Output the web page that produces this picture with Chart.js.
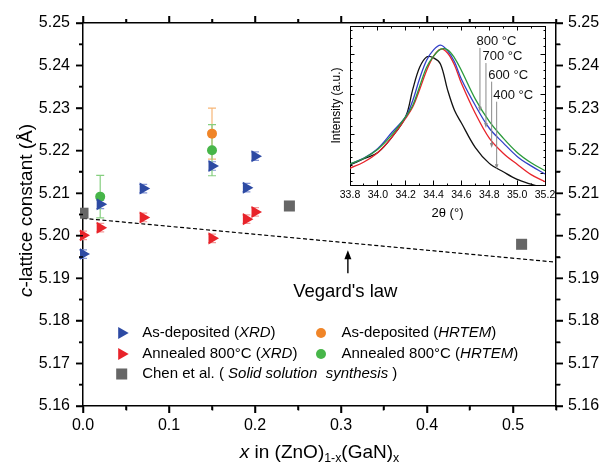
<!DOCTYPE html>
<html>
<head>
<meta charset="utf-8">
<title>c-lattice constant of (ZnO)1-x(GaN)x</title>
<script src="https://cdn.jsdelivr.net/npm/chart.js@4.4.1/dist/chart.umd.min.js"></script>
<style>
  html, body { margin: 0; padding: 0; background: #fff; }
  #wrap { position: relative; width: 605px; height: 466px; overflow: hidden; }
  #main, #ticks { position: absolute; left: 0; top: 0; }
  #ticks { pointer-events: none; }
  #inset { position: absolute; left: 310px; top: 20px; }
</style>
</head>
<body>
<div id="wrap">
  <canvas id="main" width="605" height="466"></canvas>
  <canvas id="ticks" width="605" height="466"></canvas>
  <canvas id="inset" width="255" height="205"></canvas>
</div>
<script>
// ---- c-lattice constant (Å) vs. GaN fraction x ----
const xrdX = [0, 0.02, 0.07, 0.15, 0.19, 0.20];
const asDepXrdC = [5.1957, 5.2074, 5.2111, 5.2164, 5.2113, 5.2187];
const annealXrdC = [5.2001, 5.2019, 5.2043, 5.1994, 5.2039, 5.2056];
const xrdErr = [0.001, 0.001, 0.001, 0.001, 0.001, 0.001];

const asDepTemX = [0.15];
const asDepTemC = [5.2240];
const asDepTemErr = [0.006];

const annealTemX = [0.02, 0.15];
const annealTemC = [5.2092, 5.2201];
const annealTemErr = [0.005, 0.006];

const chenX = [0, 0.24, 0.51];
const chenC = [5.2053, 5.2070, 5.1980];

const vegardX = [0, 0.55];
const vegardC = [5.2041, 5.1938];

const seriesLabels = [
  'As-deposited (XRD)',
  'Annealed 800°C (XRD)',
  'As-deposited (HRTEM)',
  'Annealed 800°C (HRTEM)',
  'Chen et al. ( Solid solution  synthesis )'
];

const xTicks = [0, 0.1, 0.2, 0.3, 0.4, 0.5];
const cTicks = [5.16, 5.17, 5.18, 5.19, 5.20, 5.21, 5.22, 5.23, 5.24, 5.25];

// ---- inset: (002) peak, intensity in a.u. ----
const twoTheta = [33.8, 33.9, 34.0, 34.1, 34.2, 34.25, 34.3, 34.35, 34.4, 34.45, 34.5, 34.55, 34.6, 34.7, 34.8, 34.9, 35.0, 35.1, 35.2];
const int400 = [12.6, 16.5, 20.5, 30, 43, 60, 74, 80.5, 80, 76, 60, 47, 39, 23.5, 13.6, 8.3, 3.5, 0.5, -2];
const int600 = [10.5, 14.5, 20.5, 30, 42, 49, 60, 72, 81, 85.5, 83, 75.5, 64, 45, 29.5, 20, 13, 6.5, 2.1];
const int700 = [13.2, 17, 23, 33, 43, 53, 67, 78.5, 85, 88, 84.5, 77.5, 66.5, 50, 35.7, 26.5, 18, 12, 6.9];
const int800 = [13.2, 16.8, 22.5, 31.5, 43, 50, 62, 74, 81, 85.3, 85, 80, 72, 54, 40, 29.5, 20.5, 14, 9];
const twoThetaTicks = [33.8, 34.0, 34.2, 34.4, 34.6, 34.8, 35.0, 35.2];
const intensityTicks = [7, 32, 57, 82];

const tempLabels = ['800 °C', '700 °C', '600 °C', '400 °C'];

const FONT = "'Liberation Sans', Arial, Helvetica, sans-serif";
Chart.defaults.font.family = FONT;
Chart.defaults.color = '#000';

const pts = (xs, ys) => xs.map((x, i) => ({ x: x, y: ys[i] }));

// evenly spaced tick list, flagged minor where no major sits
function stepTicks(from, to, step, majors) {
  const n = Math.round((to - from) / step);
  const list = [];
  for (let i = 0; i <= n; i++) {
    const v = +(from + i * step).toFixed(6);
    list.push({ value: v, minor: !majors.some(m => Math.abs(m - v) < step / 10) });
  }
  return list;
}

// minor ticks are drawn as the part of the tick next to the axis line
// (top/left tick lines start at their outer end, bottom/right at the axis)
function tickDash(side, full, short) {
  const pattern = (side === 'top' || side === 'left') ? [0, full - short, short, 60] : [short, 60];
  return c => (c.tick && c.tick.minor) ? pattern : [];
}

function tickGrid(side, full, short, width) {
  return {
    display: true, drawOnChartArea: false, drawTicks: true,
    tickLength: full, tickWidth: width, tickColor: '#000',
    tickBorderDash: tickDash(side, Math.abs(full), short)
  };
}

const labelOf = digits => (v, i, t) => (t[i] && t[i].minor) ? '' : v.toFixed(digits);

// text made of plain / italic / subscript runs
function drawRuns(ctx, runs, x, y, size, align) {
  const fontOf = r => (r.i ? 'italic ' : '') + (r.sub ? size * 0.65 : size) + 'px ' + FONT;
  let total = 0;
  runs.forEach(r => { ctx.font = fontOf(r); total += ctx.measureText(r.t).width; });
  let cx = align === 'center' ? x - total / 2 : x;
  ctx.textBaseline = 'middle';
  ctx.textAlign = 'left';
  runs.forEach(r => {
    ctx.font = fontOf(r);
    ctx.fillText(r.t, cx, r.sub ? y + size * 0.32 : y);
    cx += ctx.measureText(r.t).width;
  });
}

// whatever sits in parentheses is set in italics
function labelRuns(label) {
  const runs = [];
  let italic = false;
  label.split(/([()])/).forEach(part => {
    if (part === '(') { runs.push({ t: part }); italic = true; }
    else if (part === ')') { italic = false; runs.push({ t: part }); }
    else if (part) runs.push({ t: part, i: italic });
  });
  return runs;
}

function drawMarker(ctx, style, color, x, y, r) {
  ctx.fillStyle = color;
  ctx.beginPath();
  if (style === 'triangle') {
    ctx.moveTo(x + r, y);
    ctx.lineTo(x - r / 2, y - r * Math.sqrt(3) / 2);
    ctx.lineTo(x - r / 2, y + r * Math.sqrt(3) / 2);
    ctx.closePath();
  } else if (style === 'rect') {
    const s = r * Math.SQRT1_2;
    ctx.rect(x - s, y - s, 2 * s, 2 * s);
  } else {
    ctx.arc(x, y, r, 0, Math.PI * 2);
  }
  ctx.fill();
}

// tick marks of the main frame, drawn on the overlay canvas from the chart's scales
function drawFrameTicks(ctx, chart, lineWidth, spec) {
  const scale = chart.scales[spec.id];
  const area = chart.chartArea;
  const side = spec.side;
  const horiz = side === 'top' || side === 'bottom';
  const base = area[side];
  const dir = (side === 'left' || side === 'top') ? -1 : 1;
  ctx.save();
  ctx.strokeStyle = '#000';
  ctx.lineWidth = lineWidth;
  ctx.beginPath();
  spec.ticks.forEach(t => {
    const len = t.minor ? spec.minor : spec.major;
    const p = scale.getPixelForValue(t.value);
    if (horiz) { ctx.moveTo(p, base); ctx.lineTo(p, base + dir * len); }
    else { ctx.moveTo(base, p); ctx.lineTo(base + dir * len, p); }
  });
  ctx.stroke();
  ctx.restore();
}

// vertical error bars under the markers
const errorBars = {
  id: 'errorBars',
  beforeDatasetsDraw(chart) {
    const ctx = chart.ctx;
    chart.data.datasets.forEach((ds, i) => {
      if (!ds.errors) return;
      const meta = chart.getDatasetMeta(i);
      const xs = chart.scales[meta.xAxisID], ys = chart.scales[meta.yAxisID];
      ctx.save();
      ctx.strokeStyle = ds.errorColor;
      ctx.lineWidth = 1.2;
      ctx.beginPath();
      ds.data.forEach((pt, j) => {
        const px = xs.getPixelForValue(pt.x);
        const top = ys.getPixelForValue(pt.y + ds.errors[j]);
        const bot = ys.getPixelForValue(pt.y - ds.errors[j]);
        ctx.moveTo(px, top); ctx.lineTo(px, bot);
        ctx.moveTo(px - 4, top); ctx.lineTo(px + 4, top);
        ctx.moveTo(px - 4, bot); ctx.lineTo(px + 4, bot);
      });
      ctx.stroke();
      ctx.restore();
    });
  }
};

const fixSize = (prop, v) => scale => { scale[prop] = v; };
const setTicks = list => scale => { scale.ticks = list.map(t => ({ value: t.value, minor: t.minor })); };
const frame = { color: '#000', width: 1.5 };

const mainXTicks = stepTicks(0, 0.55, 0.05, xTicks);
const mainCTicks = stepTicks(5.16, 5.25, 0.005, cTicks);

const frameTicks = [
  { id: 'x', side: 'bottom', ticks: mainXTicks, major: 7, minor: 4 },
  { id: 'x2', side: 'top', ticks: mainXTicks, major: 7, minor: 4 },
  { id: 'y', side: 'left', ticks: mainCTicks, major: 7, minor: 4 },
  { id: 'y2', side: 'right', ticks: mainCTicks, major: 7, minor: 4 }
];

// ticks, axis titles, legend and the Vegard's law note
const mainDecor = {
  id: 'mainDecor',
  afterDraw(chart) {
    const { ctx, chartArea, scales } = chart;

    const overlay = document.getElementById('ticks').getContext('2d');
    overlay.clearRect(0, 0, 605, 466);
    frameTicks.forEach(spec => drawFrameTicks(overlay, chart, 1.5, spec));

    ctx.save();
    ctx.fillStyle = '#000';
    ctx.save();
    ctx.translate(27, (chartArea.top + chartArea.bottom) / 2 - 4);
    ctx.rotate(-Math.PI / 2);
    drawRuns(ctx, [{ t: 'c', i: true }, { t: '-lattice constant (Å)' }], 0, 0, 19, 'center');
    ctx.restore();

    ctx.fillStyle = '#000';
    drawRuns(ctx, [{ t: 'x', i: true }, { t: ' in (ZnO)' }, { t: '1-x', sub: true }, { t: '(GaN)' }, { t: 'x', sub: true }],
      (chartArea.left + chartArea.right) / 2, 453, 19, 'center');

    // legend
    const slots = [[121.7, 333], [121.7, 354], [321, 333], [321, 354], [121.7, 374]];
    chart.data.datasets.forEach(ds => {
      if (ds.legendIndex === undefined) return;
      const [mx, my] = slots[ds.legendIndex];
      drawMarker(ctx, ds.pointStyle, ds.backgroundColor, mx, my, ds.legendRadius);
      ctx.fillStyle = '#000';
      drawRuns(ctx, labelRuns(ds.label), mx + 20.5, my, 15, 'left');
    });

    // Vegard's law arrow + label
    const ax = scales.x.getPixelForValue(0.308);
    const tip = scales.y.getPixelForValue(5.1966);
    const tail = scales.y.getPixelForValue(5.1912);
    ctx.strokeStyle = '#000';
    ctx.lineWidth = 1.4;
    ctx.beginPath(); ctx.moveTo(ax, tail); ctx.lineTo(ax, tip + 6); ctx.stroke();
    ctx.fillStyle = '#000';
    ctx.beginPath(); ctx.moveTo(ax, tip); ctx.lineTo(ax - 3.5, tip + 9); ctx.lineTo(ax + 3.5, tip + 9); ctx.closePath(); ctx.fill();
    drawRuns(ctx, [{ t: "Vegard's law" }], scales.x.getPixelForValue(0.305), scales.y.getPixelForValue(5.1869), 18.5, 'center');
    ctx.restore();
  }
};

new Chart(document.getElementById('main'), {
  type: 'scatter',
  data: {
    datasets: [
      {
        label: seriesLabels[0], legendIndex: 0, legendRadius: 7,
        data: pts(xrdX, asDepXrdC), errors: xrdErr, errorColor: '#8293d4',
        pointStyle: 'triangle', rotation: 90, pointRadius: 7,
        backgroundColor: '#2d4aa3', borderColor: '#2d4aa3', borderWidth: 0,
        clip: { left: 3, top: 0, right: 0, bottom: 0 }
      },
      {
        label: seriesLabels[1], legendIndex: 1, legendRadius: 7,
        data: pts(xrdX, annealXrdC), errors: xrdErr, errorColor: '#f39a9a',
        pointStyle: 'triangle', rotation: 90, pointRadius: 7,
        backgroundColor: '#e8232a', borderColor: '#e8232a', borderWidth: 0,
        clip: { left: 3, top: 0, right: 0, bottom: 0 }
      },
      {
        label: seriesLabels[2], legendIndex: 2, legendRadius: 5,
        data: pts(asDepTemX, asDepTemC), errors: asDepTemErr, errorColor: '#f7b677',
        pointStyle: 'circle', pointRadius: 5,
        backgroundColor: '#f08528', borderColor: '#f08528', borderWidth: 0
      },
      {
        label: seriesLabels[3], legendIndex: 3, legendRadius: 5,
        data: pts(annealTemX, annealTemC), errors: annealTemErr, errorColor: '#86cf80',
        pointStyle: 'circle', pointRadius: 5,
        backgroundColor: '#47b649', borderColor: '#47b649', borderWidth: 0
      },
      {
        label: seriesLabels[4], legendIndex: 4, legendRadius: 7.8,
        data: pts(chenX, chenC),
        pointStyle: 'rect', pointRadius: 7.8,
        backgroundColor: '#666666', borderColor: '#666666', borderWidth: 0,
        clip: { left: 3, top: 0, right: 0, bottom: 0 }
      },
      {
        label: "Vegard's law",
        data: pts(vegardX, vegardC),
        showLine: true, pointRadius: 0,
        borderColor: '#000', borderWidth: 1.2, borderDash: [4, 2.5],
        clip: 0
      }
    ]
  },
  options: {
    responsive: false,
    animation: false,
    layout: { padding: 0 },
    plugins: {
      legend: { display: false },
      tooltip: { enabled: false }
    },
    scales: {
      x: {
        type: 'linear', position: 'bottom', min: 0, max: 0.55,
        afterBuildTicks: setTicks(mainXTicks), afterFit: fixSize('height', 60),
        ticks: { font: { size: 16 }, padding: 3, autoSkip: false, maxRotation: 0, callback: labelOf(1) },
        grid: tickGrid('bottom', 7, 4, 1.5), border: frame
      },
      x2: {
        type: 'linear', position: 'top', min: 0, max: 0.55,
        afterBuildTicks: setTicks(mainXTicks), afterFit: fixSize('height', 23),
        ticks: { display: false, autoSkip: false },
        grid: tickGrid('top', 7, 4, 1.5), border: frame
      },
      y: {
        type: 'linear', position: 'left', min: 5.16, max: 5.25,
        afterBuildTicks: setTicks(mainCTicks), afterFit: fixSize('width', 83),
        ticks: { font: { size: 16 }, padding: 6, autoSkip: false, callback: labelOf(2) },
        grid: tickGrid('left', 7, 4, 1.5), border: frame
      },
      y2: {
        type: 'linear', position: 'right', min: 5.16, max: 5.25,
        afterBuildTicks: setTicks(mainCTicks), afterFit: fixSize('width', 49),
        ticks: { font: { size: 16 }, padding: 5, autoSkip: false, callback: labelOf(2) },
        grid: tickGrid('right', 7, 4, 1.5), border: frame
      }
    }
  },
  plugins: [errorBars, mainDecor]
});

// ---- inset chart ----
const pointers = [
  { at: 34.733, from: 86.2, to: 46.1 },
  { at: 34.776, from: 76.7, to: 35.8 },
  { at: 34.817, from: 65.0, to: 23.3 },
  { at: 34.853, from: 52.4, to: 9.9 }
];

const insetDecor = {
  id: 'insetDecor',
  beforeDraw(chart) {
    const { ctx, chartArea } = chart;
    ctx.save();
    ctx.fillStyle = '#fff';
    ctx.fillRect(chartArea.left, chartArea.top, chartArea.right - chartArea.left, chartArea.bottom - chartArea.top);
    ctx.restore();
  },
  afterDraw(chart) {
    const { ctx, chartArea, scales } = chart;
    ctx.save();
    ctx.fillStyle = '#000';
    ctx.save();
    ctx.translate(27, (chartArea.top + chartArea.bottom) / 2);
    ctx.rotate(-Math.PI / 2);
    drawRuns(ctx, [{ t: 'Intensity (a.u.)' }], 0, 0, 12, 'center');
    ctx.restore();
    drawRuns(ctx, [{ t: '2θ (°)' }], (chartArea.left + chartArea.right) / 2, 193, 13, 'center');

    // temperature labels pointing at their curves
    ctx.strokeStyle = '#8a8a8a';
    ctx.lineWidth = 1;
    pointers.forEach((p, i) => {
      const px = scales.x.getPixelForValue(p.at);
      const top = scales.y.getPixelForValue(p.from);
      const tip = scales.y.getPixelForValue(p.to);
      ctx.beginPath(); ctx.moveTo(px, top); ctx.lineTo(px, tip - 3); ctx.stroke();
      ctx.fillStyle = '#8a8a8a';
      ctx.beginPath(); ctx.moveTo(px, tip); ctx.lineTo(px - 1.8, tip - 5); ctx.lineTo(px + 1.8, tip - 5); ctx.closePath(); ctx.fill();
      ctx.fillStyle = '#111';
      drawRuns(ctx, [{ t: tempLabels[i] }], px - 3.5, top - 6.5, 13, 'left');
    });
    ctx.restore();
  }
};

const peak = (ys, color) => ({
  data: pts(twoTheta, ys), showLine: true, pointRadius: 0,
  borderColor: color, borderWidth: 1.3, tension: 0.35, clip: 0
});

const thinFrame = { color: '#000', width: 1 };
const insetXTicks = stepTicks(33.8, 35.2, 0.1, twoThetaTicks);
const insetYTicks = stepTicks(2, 97, 5, intensityTicks);

// negative tick length turns the inset ticks inward
new Chart(document.getElementById('inset'), {
  type: 'scatter',
  data: {
    datasets: [
      peak(int800, '#2a9a3a'),
      peak(int700, '#3340c8'),
      peak(int600, '#e8232a'),
      peak(int400, '#111111')
    ]
  },
  options: {
    responsive: false,
    animation: false,
    layout: { padding: 0 },
    plugins: {
      legend: { display: false },
      tooltip: { enabled: false }
    },
    scales: {
      x: {
        type: 'linear', position: 'bottom', min: 33.8, max: 35.2,
        afterBuildTicks: setTicks(insetXTicks), afterFit: fixSize('height', 40),
        ticks: { font: { size: 10.5 }, padding: 8.5, autoSkip: false, maxRotation: 0, callback: labelOf(1) },
        grid: tickGrid('bottom', -4.5, 2.5, 1), border: thinFrame
      },
      x2: {
        type: 'linear', position: 'top', min: 33.8, max: 35.2,
        afterBuildTicks: setTicks(insetXTicks), afterFit: fixSize('height', 6),
        ticks: { display: false, autoSkip: false },
        grid: tickGrid('top', -4.5, 2.5, 1), border: thinFrame
      },
      y: {
        type: 'linear', position: 'left', min: 0, max: 100,
        afterBuildTicks: setTicks(insetYTicks), afterFit: fixSize('width', 40),
        ticks: { display: false, autoSkip: false },
        grid: tickGrid('left', -4.5, 2.5, 1), border: thinFrame
      },
      y2: {
        type: 'linear', position: 'right', min: 0, max: 100,
        afterBuildTicks: setTicks(insetYTicks), afterFit: fixSize('width', 20),
        ticks: { display: false, autoSkip: false },
        grid: tickGrid('right', -4.5, 2.5, 1), border: thinFrame
      }
    }
  },
  plugins: [insetDecor]
});
</script>
</body>
</html>
